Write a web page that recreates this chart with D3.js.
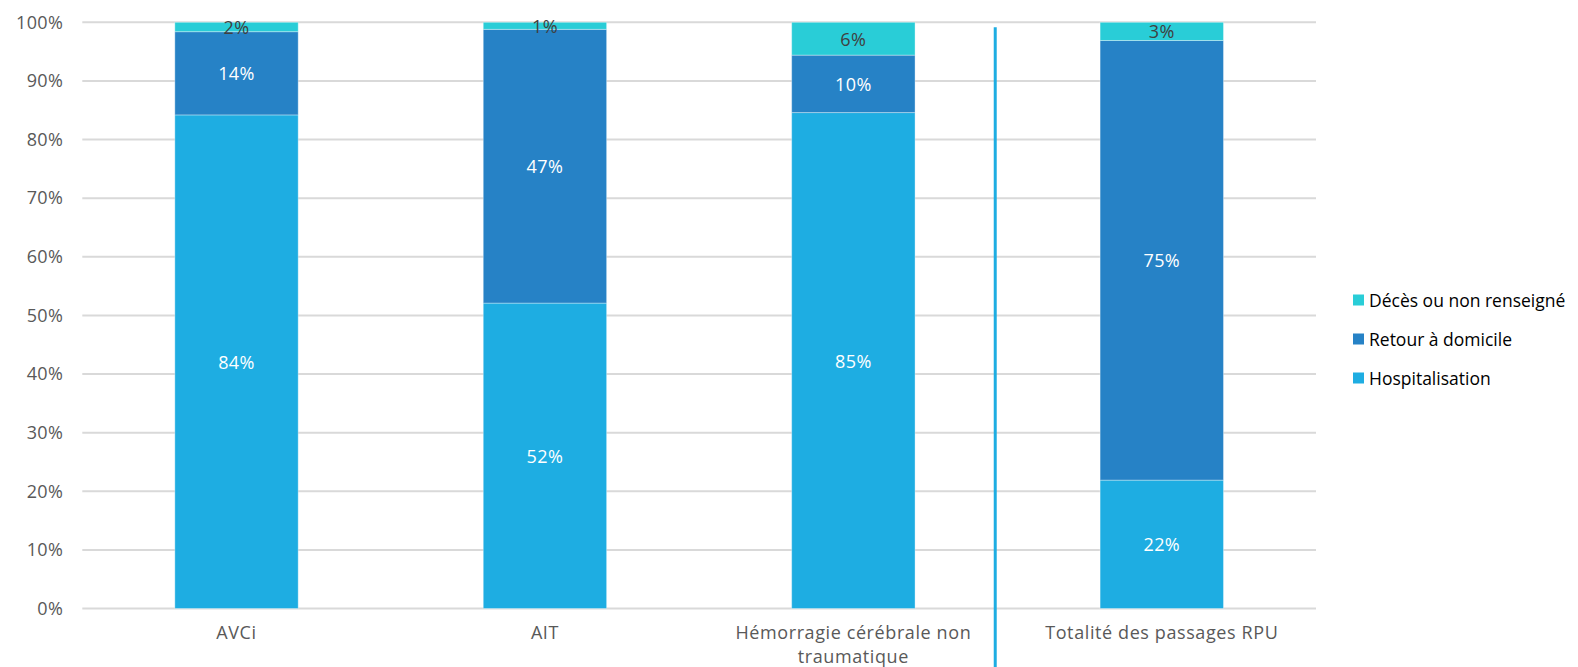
<!DOCTYPE html>
<html lang="fr">
<head>
<meta charset="utf-8">
<script src="https://cdn.jsdelivr.net/npm/d3@7"></script>
<style>
  html, body { margin: 0; padding: 0; background: #fff; }
  svg { display: block; }
</style>
</head>
<body>
<svg id="chart" width="1578" height="667"></svg>
<script>
// Catégories (axe horizontal)
const categories = ["AVCi", "AIT", "Hémorragie cérébrale non traumatique", "Totalité des passages RPU"];

// Parts de chaque mode de sortie, en proportion (0–1)
const hospitalisation = [0.842, 0.521, 0.846, 0.219];
const retourDomicile  = [0.142, 0.467, 0.098, 0.750];
const decesNonRens    = [0.016, 0.012, 0.056, 0.031];

// Séries empilées, de bas en haut
const seriesNames  = ["Hospitalisation", "Retour à domicile", "Décès ou non renseigné"];
const seriesColors = ["#1eade2", "#2682c6", "#29cdd7"];
const labelColors  = ["#ffffff", "#ffffff", "#404040"];

// Graduations de l'axe vertical
const yTicks = [0, 0.1, 0.2, 0.3, 0.4, 0.5, 0.6, 0.7, 0.8, 0.9, 1];

const svg = d3.select("#chart");
const plot = { left: 82.3, right: 1316, top: 22.3, bottom: 608.5 };

const x = d3.scaleBand().domain(categories).range([plot.left, plot.right]).padding(0);
const y = d3.scaleLinear().domain([0, 1]).range([plot.bottom, plot.top]);
const barW = x.bandwidth() * 0.4;
const pct = d3.format(".0%");
const font = "'Open Sans', sans-serif";

const rows = categories.map((c, i) => ({
  cat: c,
  "Hospitalisation": hospitalisation[i],
  "Retour à domicile": retourDomicile[i],
  "Décès ou non renseigné": decesNonRens[i]
}));
const stacked = d3.stack().keys(seriesNames)(rows);

// Quadrillage horizontal
svg.append("g")
  .selectAll("line")
  .data(yTicks)
  .join("line")
  .attr("x1", plot.left)
  .attr("x2", plot.right)
  .attr("y1", d => y(d))
  .attr("y2", d => y(d))
  .attr("stroke", "#d9d9d9")
  .attr("stroke-width", 2);

// Axe vertical (libellés seulement)
const yAxis = svg.append("g")
  .attr("transform", `translate(${plot.left},0)`)
  .call(d3.axisLeft(y).tickValues(yTicks).tickFormat(pct).tickSize(0).tickPadding(19));
yAxis.select(".domain").remove();
yAxis.selectAll("text")
  .attr("fill", "#595959")
  .style("font-family", font)
  .style("font-size", "18px")
  .style("letter-spacing", "0.4px");

// Barres empilées
const layers = svg.append("g")
  .selectAll("g")
  .data(stacked)
  .join("g")
  .attr("fill", (d, i) => seriesColors[i]);

layers.selectAll("rect")
  .data(d => d)
  .join("rect")
  .attr("x", d => x(d.data.cat) + (x.bandwidth() - barW) / 2)
  .attr("width", barW)
  .attr("y", d => y(d[1]))
  .attr("height", d => y(d[0]) - y(d[1]))
  .attr("stroke", "rgba(255,255,255,0.35)")
  .attr("stroke-width", 1);

// Étiquettes de valeur au centre de chaque segment
svg.append("g")
  .selectAll("g")
  .data(stacked)
  .join("g")
  .attr("fill", (d, i) => labelColors[i])
  .selectAll("text")
  .data(d => d)
  .join("text")
  .attr("x", d => x(d.data.cat) + x.bandwidth() / 2)
  .attr("y", d => y((d[0] + d[1]) / 2))
  .attr("text-anchor", "middle")
  .attr("dominant-baseline", "central")
  .style("font-family", font)
  .style("font-size", "18px")
  .style("letter-spacing", "0.4px")
  .text(d => pct(d[1] - d[0]));

// Libellés des catégories (retour à la ligne pour les plus longs)
const catLines = {
  "Hémorragie cérébrale non traumatique": ["Hémorragie cérébrale non", "traumatique"]
};
const catG = svg.append("g")
  .selectAll("text")
  .data(categories)
  .join("text")
  .attr("x", d => x(d) + x.bandwidth() / 2)
  .attr("y", plot.bottom + 23)
  .attr("text-anchor", "middle")
  .attr("dominant-baseline", "central")
  .attr("fill", "#595959")
  .style("font-family", font)
  .style("font-size", "18px")
  .style("letter-spacing", "0.6px");
catG.each(function (d) {
  const lines = catLines[d] || [d];
  d3.select(this).selectAll("tspan")
    .data(lines)
    .join("tspan")
    .attr("x", x(d) + x.bandwidth() / 2)
    .attr("dy", (l, i) => i === 0 ? 0 : 24)
    .text(l => l);
});

// Séparateur vertical avant la colonne de référence
const sepX = x(categories[3]) - x.step() * 0.04;
svg.append("line")
  .attr("x1", sepX)
  .attr("x2", sepX)
  .attr("y1", plot.top + 5)
  .attr("y2", 667)
  .attr("stroke", "#1eade2")
  .attr("stroke-width", 3);

// Légende (ordre inversé : haut de pile en premier)
const legendItems = seriesNames.map((n, i) => ({ name: n, color: seriesColors[i] })).reverse();
const legend = svg.append("g")
  .selectAll("g")
  .data(legendItems)
  .join("g")
  .attr("transform", (d, i) => `translate(1353,${300 + i * 39})`);
legend.append("rect")
  .attr("x", 0)
  .attr("y", -5.5)
  .attr("width", 11)
  .attr("height", 11)
  .attr("fill", d => d.color);
legend.append("text")
  .attr("x", 16)
  .attr("y", 0)
  .attr("dominant-baseline", "central")
  .attr("fill", "#000")
  .style("font-family", font)
  .style("font-size", "17.5px")
  .text(d => d.name);
</script>
</body>
</html>
